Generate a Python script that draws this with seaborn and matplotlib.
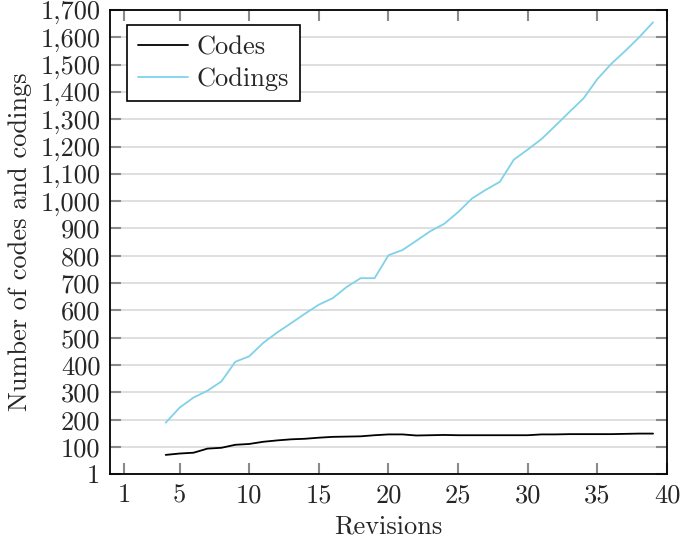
import matplotlib
matplotlib.use("Agg")
import matplotlib.pyplot as plt
import seaborn as sns
import pandas as pd

revisions = list(range(4, 40))
codes = [71, 76, 79, 94, 97, 108, 111, 119, 124, 128, 130, 134, 137, 138, 139, 143,
         146, 146, 142, 143, 144, 143, 143, 143, 143, 143, 143, 146, 146, 147, 147,
         147, 147, 148, 149, 149]
codings = [189, 244, 281, 306, 340, 412, 432, 481, 519, 553, 588, 621, 645, 686, 718,
           718, 802, 821, 855, 890, 917, 960, 1010, 1042, 1071, 1152, 1189, 1228, 1277,
           1327, 1376, 1447, 1503, 1550, 1600, 1655]
x_ticks = [1, 5, 10, 15, 20, 25, 30, 35, 40]
y_ticks = [1] + list(range(100, 1800, 100))
y_tick_labels = [f"{v:,}" for v in y_ticks]
series_names = ["Codes", "Codings"]
series_colors = ["#000000", "#7fd2e8"]

sns.set_style("ticks")
plt.rcParams["font.family"] = ["cmr10", "DejaVu Serif"]
plt.rcParams["axes.formatter.use_mathtext"] = True
FS = 19
plt.rcParams["font.size"] = FS

df = pd.DataFrame({
    "Revisions": revisions * 2,
    "value": codes + codings,
    "series": [series_names[0]] * len(revisions) + [series_names[1]] * len(revisions),
})

fig = plt.figure(figsize=(6.85, 5.37), dpi=100)
ax = fig.add_axes([0.1606, 0.1173, 0.8131, 0.8641])

sns.lineplot(data=df, x="Revisions", y="value", hue="series",
             palette=dict(zip(series_names, series_colors)), linewidth=1.3,
             ax=ax, legend=True)

ax.set_xlim(0, 40)
ax.set_ylim(1, 1700)
ax.set_xticks(x_ticks)
ax.set_xticklabels([str(t) for t in x_ticks])
ax.set_yticks(y_ticks)
ax.set_yticklabels(y_tick_labels)
ax.yaxis.grid(True, color="#dcdcdc", linewidth=1.3)
ax.set_axisbelow(True)

ax.tick_params(direction="in", length=8, width=1.5, color="#8a8a8a",
               top=True, right=True, labelsize=FS, pad=7)
for s in ax.spines.values():
    s.set_color("black")
    s.set_linewidth(1.3)

ax.set_xlabel("Revisions", fontsize=FS, labelpad=5)
ax.set_ylabel("Number of codes and codings", fontsize=FS, labelpad=6)

leg = ax.legend(loc="upper left", bbox_to_anchor=(0.0305, 0.968), frameon=True,
                fancybox=False, edgecolor="black", framealpha=1,
                fontsize=FS, handlelength=1.9, borderpad=0.4, labelspacing=0.3,
                handletextpad=0.35, borderaxespad=0, title=None)
leg.get_frame().set_linewidth(1.2)

fig.savefig("out.png", dpi=100)
